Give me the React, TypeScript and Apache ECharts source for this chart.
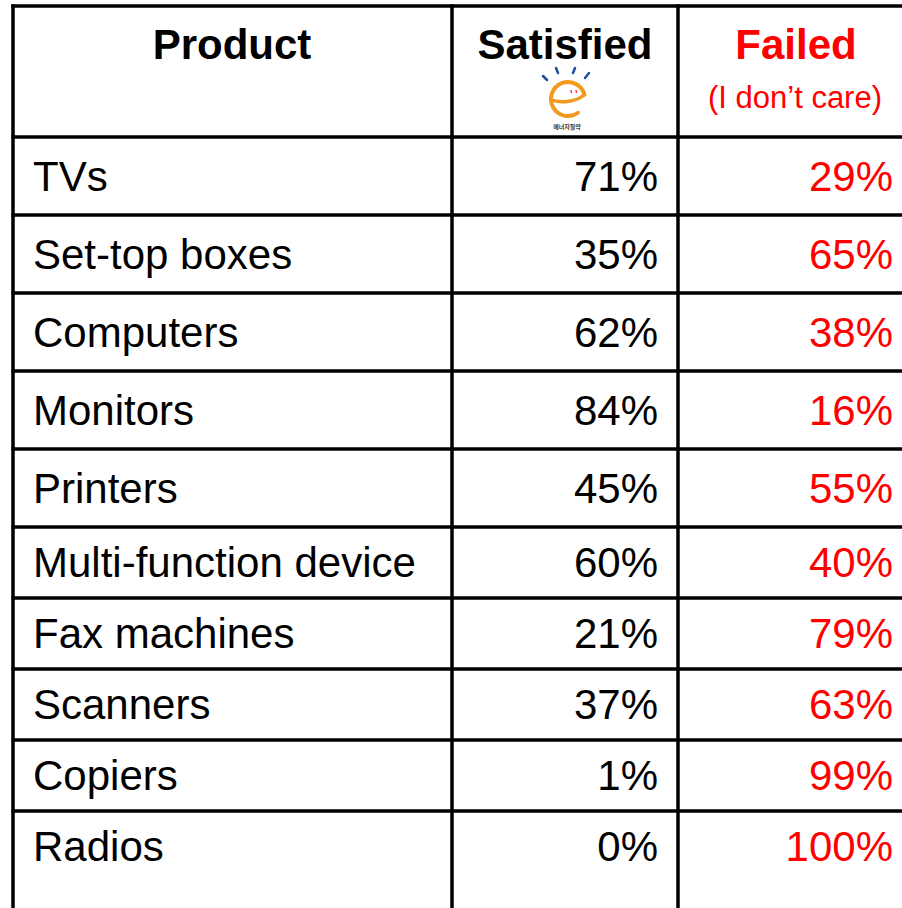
import React, { useEffect, useRef } from "react";
import * as echarts from "echarts";

const products = [
  "TVs",
  "Set-top boxes",
  "Computers",
  "Monitors",
  "Printers",
  "Multi-function device",
  "Fax machines",
  "Scanners",
  "Copiers",
  "Radios",
];
const satisfied = [71, 35, 62, 84, 45, 60, 21, 37, 1, 0];
const failed = [29, 65, 38, 16, 55, 40, 79, 63, 99, 100];
const headers = ["Product", "Satisfied", "Failed"];
const subHeader = "(I don\u2019t care)";
const logoText = "에너지절약";

const FONT = "'Liberation Sans', Arial, Helvetica, sans-serif";
const RED = "#FF0000";

export default function App() {
  const ref = useRef<HTMLDivElement>(null);

  useEffect(() => {
    if (!ref.current) return;
    const chart = echarts.init(ref.current, undefined, { renderer: "svg" });

    const W = 902;
    const H = 908;
    const colLeft = 13;
    const col2 = 452;
    const col3 = 678;
    const lw = 3.5;

    const makeRender = (offset: number) => (params: any, api: any) => {
      const i = api.value(1) as number;
      const c = api.coord([0, i]);
      const bandH = api.size([0, 1])[1];
      const yc = c[1];
      const top = yc - bandH / 2;
      const k = offset + params.dataIndex;
      return {
        type: "group",
        children: [
          {
            type: "line",
            shape: { x1: colLeft - 1.5, y1: top, x2: W, y2: top },
            style: { stroke: "#000", lineWidth: lw },
          },
          {
            type: "text",
            x: 33,
            y: yc,
            style: {
              text: products[k],
              font: `42px ${FONT}`,
              fill: "#000",
              textAlign: "left",
              textVerticalAlign: "middle",
            },
          },
          {
            type: "text",
            x: 658,
            y: yc,
            style: {
              text: satisfied[k] + "%",
              font: `42px ${FONT}`,
              fill: "#000",
              textAlign: "right",
              textVerticalAlign: "middle",
            },
          },
          {
            type: "text",
            x: 893,
            y: yc,
            style: {
              text: failed[k] + "%",
              font: `42px ${FONT}`,
              fill: RED,
              textAlign: "right",
              textVerticalAlign: "middle",
            },
          },
        ],
      };
    };

    const first = products.slice(0, 5);
    const second = products.slice(5);

    const orange = "#F29A1F";
    const blue = "#1F4E9C";

    chart.setOption({
      animation: false,
      grid: [
        { left: 0, right: 0, top: 137, height: 390 },
        { left: 0, right: 0, top: 527, height: 355 },
      ],
      xAxis: [
        { type: "value", gridIndex: 0, min: 0, max: 1, show: false },
        { type: "value", gridIndex: 1, min: 0, max: 1, show: false },
      ],
      yAxis: [
        { type: "category", gridIndex: 0, data: first, inverse: true, show: false },
        { type: "category", gridIndex: 1, data: second, inverse: true, show: false },
      ],
      series: [
        {
          type: "custom",
          xAxisIndex: 0,
          yAxisIndex: 0,
          data: first.map((_, i) => [0, i]),
          renderItem: makeRender(0),
          silent: true,
        },
        {
          type: "custom",
          xAxisIndex: 1,
          yAxisIndex: 1,
          data: second.map((_, i) => [0, i]),
          renderItem: makeRender(5),
          silent: true,
        },
      ],
      graphic: [
        // borders
        {
          type: "line",
          shape: { x1: colLeft - 1.75, y1: 6, x2: W, y2: 6 },
          style: { stroke: "#000", lineWidth: lw },
          z: 10,
        },
        {
          type: "line",
          shape: { x1: colLeft, y1: 4.25, x2: colLeft, y2: H },
          style: { stroke: "#000", lineWidth: lw },
          z: 10,
        },
        {
          type: "line",
          shape: { x1: col2, y1: 4.25, x2: col2, y2: H },
          style: { stroke: "#000", lineWidth: lw },
          z: 10,
        },
        {
          type: "line",
          shape: { x1: col3, y1: 4.25, x2: col3, y2: H },
          style: { stroke: "#000", lineWidth: lw },
          z: 10,
        },
        // headers
        {
          type: "text",
          x: 232,
          y: 44,
          style: {
            text: headers[0],
            font: `bold 42px ${FONT}`,
            fill: "#000",
            textAlign: "center",
            textVerticalAlign: "middle",
          },
        },
        {
          type: "text",
          x: 565,
          y: 44,
          style: {
            text: headers[1],
            font: `bold 42px ${FONT}`,
            fill: "#000",
            textAlign: "center",
            textVerticalAlign: "middle",
          },
        },
        {
          type: "text",
          x: 796,
          y: 44,
          style: {
            text: headers[2],
            font: `bold 42px ${FONT}`,
            fill: RED,
            textAlign: "center",
            textVerticalAlign: "middle",
          },
        },
        {
          type: "text",
          x: 795,
          y: 97,
          style: {
            text: subHeader,
            font: `31px ${FONT}`,
            fill: RED,
            textAlign: "center",
            textVerticalAlign: "middle",
          },
        },
        // logo
        {
          type: "group",
          children: [
            { type: "line", shape: { x1: 543, y1: 76, x2: 547, y2: 80 }, style: { stroke: blue, lineWidth: 2.5, lineCap: "round" } },
            { type: "line", shape: { x1: 556, y1: 68, x2: 558, y2: 73 }, style: { stroke: blue, lineWidth: 2.5, lineCap: "round" } },
            { type: "line", shape: { x1: 575, y1: 68, x2: 573, y2: 73 }, style: { stroke: blue, lineWidth: 2.5, lineCap: "round" } },
            { type: "line", shape: { x1: 589, y1: 73, x2: 585, y2: 78 }, style: { stroke: blue, lineWidth: 2.5, lineCap: "round" } },
            {
              type: "arc",
              shape: { cx: 568, cy: 99, r: 17, startAngle: -Math.PI * 0.08, endAngle: Math.PI * 0.3, clockwise: false },
              style: { stroke: orange, lineWidth: 4, fill: "none", lineCap: "round" },
            },
            {
              type: "bezierCurve",
              shape: { x1: 552, y1: 100, x2: 584, y2: 95, cpx1: 562, cpy1: 104, cpx2: 577, cpy2: 101 },
              style: { stroke: orange, lineWidth: 3.5, fill: "none", lineCap: "round" },
            },
            { type: "line", shape: { x1: 571, y1: 90, x2: 571.5, y2: 93 }, style: { stroke: "#E8473A", lineWidth: 1.5 } },
            { type: "line", shape: { x1: 576, y1: 90, x2: 576.5, y2: 93 }, style: { stroke: "#E8473A", lineWidth: 1.5 } },
            {
              type: "text",
              x: 567,
              y: 126,
              style: {
                text: logoText,
                font: `bold 6px 'Noto Sans CJK KR', sans-serif`,
                fill: "#333",
                textAlign: "center",
                textVerticalAlign: "middle",
              },
            },
          ],
        },
      ],
    });

    return () => chart.dispose();
  }, []);

  return (
    <div
      ref={ref}
      style={{ position: "fixed", left: 0, top: 0, width: 902, height: 908, background: "#fff" }}
    />
  );
}
